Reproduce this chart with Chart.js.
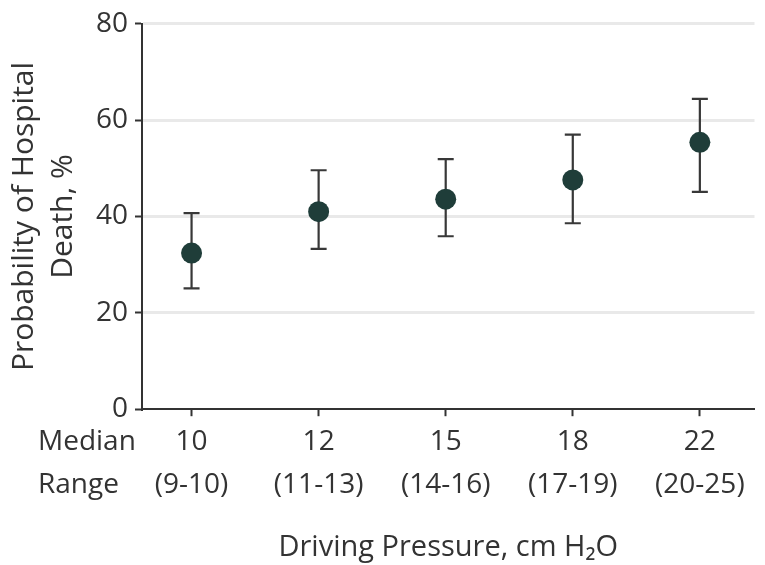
<!DOCTYPE html>
<html>
<head>
<meta charset="utf-8">
<script src="https://cdn.jsdelivr.net/npm/chart.js@4/dist/chart.umd.min.js"></script>
<style>
  html, body { margin: 0; padding: 0; background: #ffffff; }
  #wrap { width: 765px; height: 565px; }
</style>
</head>
<body>
<div id="wrap"><canvas id="c" width="765" height="565"></canvas></div>
<script>
// ---- data ----
const medians = ['10', '12', '15', '18', '22'];
const ranges = ['(9-10)', '(11-13)', '(14-16)', '(17-19)', '(20-25)'];
const rowLabels = ['Median', 'Range'];
const probability = [32.4, 41.0, 43.6, 47.6, 55.4];
const ciLower = [25.1, 33.3, 35.9, 38.6, 45.1];
const ciUpper = [40.7, 49.6, 51.9, 57.0, 64.4];
const yTicks = [0, 20, 40, 60, 80];
const yTitle = ['Probability of Hospital', 'Death, %'];
const xTitle = 'Driving Pressure, cm H\u2082O';

const FONT = "'Open Sans', 'Noto Sans', sans-serif";
const TEXT = '#333333';
const AXIS = '#333333';

const xTickLen = 7, xTickPad = 4, xLineH = 43, xFontSize = 28;

const errorBars = {
  id: 'errorBars',
  beforeDatasetsDraw(chart) {
    const { ctx, scales: { x, y } } = chart;
    ctx.save();
    ctx.strokeStyle = '#383838';
    ctx.lineWidth = 2.2;
    probability.forEach((v, i) => {
      const px = x.getPixelForValue(i);
      const top = y.getPixelForValue(ciUpper[i]);
      const bot = y.getPixelForValue(ciLower[i]);
      ctx.beginPath();
      ctx.moveTo(px, top); ctx.lineTo(px, bot);
      ctx.moveTo(px - 8, top); ctx.lineTo(px + 8, top);
      ctx.moveTo(px - 8, bot); ctx.lineTo(px + 8, bot);
      ctx.stroke();
    });
    ctx.restore();
  }
};

const rowLabelPlugin = {
  id: 'rowLabels',
  afterDraw(chart) {
    const { ctx, scales: { x } } = chart;
    ctx.save();
    ctx.fillStyle = TEXT;
    ctx.font = xFontSize + 'px ' + FONT;
    ctx.textAlign = 'left';
    ctx.textBaseline = 'middle';
    rowLabels.forEach((t, i) => {
      ctx.fillText(t, 38, x.top + xTickLen + xTickPad + xLineH * (i + 0.5));
    });
    ctx.restore();
  }
};

new Chart(document.getElementById('c'), {
  type: 'scatter',
  data: {
    datasets: [{
      data: probability.map((v, i) => ({ x: i, y: v })),
      backgroundColor: '#1f3d39',
      borderColor: '#1f3d39',
      pointRadius: 10.5,
      pointHoverRadius: 10.5,
      borderWidth: 0
    }]
  },
  options: {
    responsive: false,
    animation: false,
    devicePixelRatio: 1,
    layout: { padding: { left: 0, right: 3, top: 16, bottom: 0 } },
    plugins: { legend: { display: false }, tooltip: { enabled: false } },
    scales: {
      x: {
        type: 'linear',
        min: -0.39,
        max: 4.43,
        afterBuildTicks(scale) { scale.ticks = medians.map((m, i) => ({ value: i })); },
        ticks: {
          autoSkip: false,
          maxRotation: 0,
          padding: xTickPad,
          color: TEXT,
          font: { family: FONT, size: xFontSize, lineHeight: xLineH / xFontSize },
          callback: (v) => [medians[v], ranges[v]]
        },
        grid: { drawOnChartArea: false, drawTicks: true, tickLength: xTickLen, tickColor: AXIS, tickWidth: 2 },
        border: { display: true, color: AXIS, width: 2 },
        title: {
          display: true,
          text: xTitle,
          color: TEXT,
          font: { family: FONT, size: 29 },
          padding: { top: 20, bottom: 0 }
        }
      },
      y: {
        min: 0,
        max: 80,
        afterBuildTicks(scale) { scale.ticks = yTicks.map(v => ({ value: v })); },
        afterFit(scale) { scale.width = 142; },
        ticks: {
          padding: 7,
          color: TEXT,
          font: { family: FONT, size: xFontSize }
        },
        grid: {
          drawTicks: true,
          tickLength: 7,
          tickColor: AXIS,
          tickWidth: 2,
          lineWidth: 3,
          color: (c) => (c.tick && c.tick.value === 0) ? 'rgba(0,0,0,0)' : '#e9e9e9'
        },
        border: { display: true, color: AXIS, width: 2 },
        title: {
          display: true,
          text: yTitle,
          color: TEXT,
          font: { family: FONT, size: 30, lineHeight: 1.3 },
          padding: { top: 5, bottom: 0 }
        }
      }
    }
  },
  plugins: [errorBars, rowLabelPlugin]
});
</script>
</body>
</html>
